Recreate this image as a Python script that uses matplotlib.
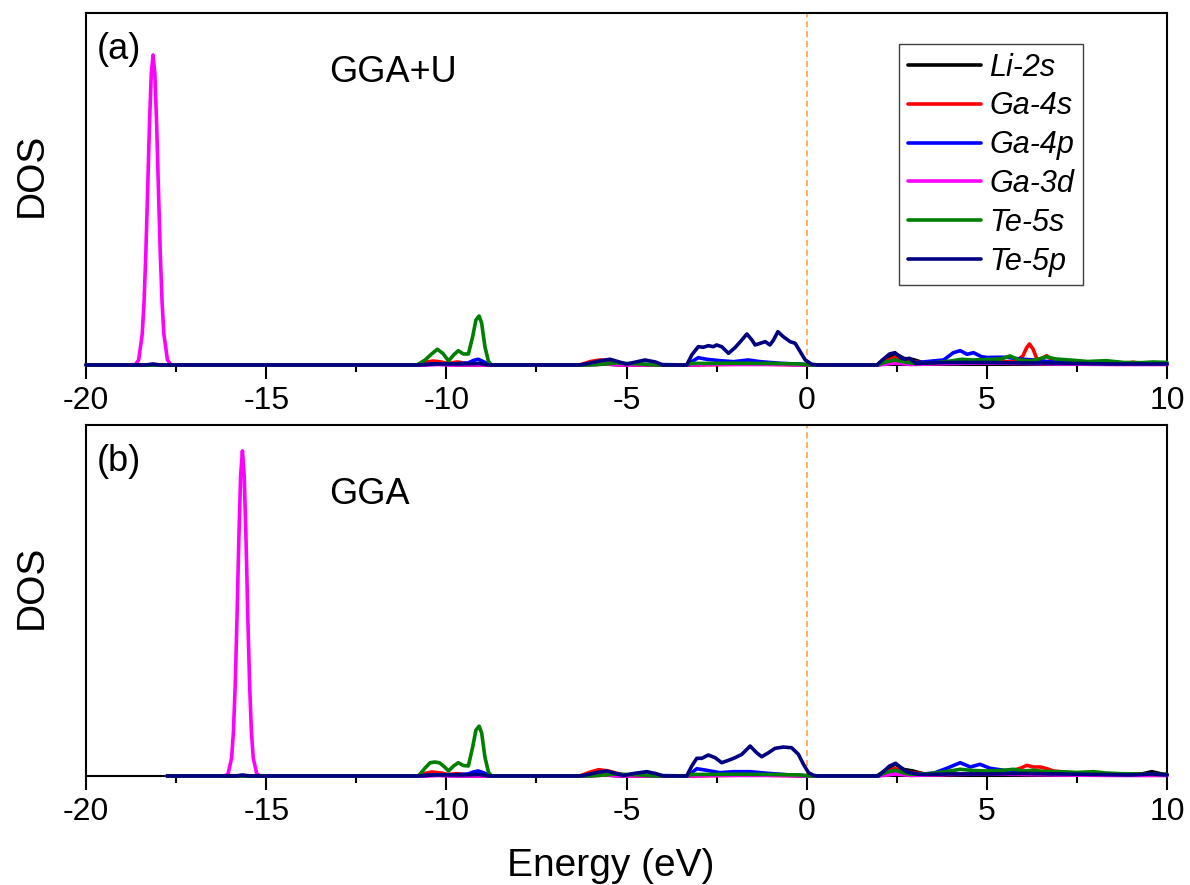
import matplotlib
matplotlib.use('Agg')
import matplotlib.pyplot as plt
from matplotlib.ticker import MultipleLocator

plt.rcParams['font.family'] = ['Liberation Sans', 'DejaVu Sans']
plt.rcParams['axes.unicode_minus'] = False

# projected DOS, arbitrary units
labels = ['Li-2s', 'Ga-4s', 'Ga-4p', 'Ga-3d', 'Te-5s', 'Te-5p']
colors = ['#000000', '#FF0000', '#0000FF', '#FF00FF', '#008000', '#000080']

# (a) GGA+U
top_li2s_e = [-20, -10.7, -10.4, -10.0, -9.6, -6.2, -5.7, -5.2, -3.3, -2.6, -1.6, -0.8, 0.1, 1.95, 2.2, 2.45, 2.7, 2.95, 3.3, 4.5, 6.0, 7.5, 8.8, 9.2, 9.6, 10]
top_li2s_dos = [0, 0, 0.1, 0.05, 0, 0, 0.15, 0, 0, 0.1, 0.15, 0.1, 0, 0, 0.6, 1.15, 0.65, 0.55, 0.15, 0.15, 0.15, 0.1, 0.1, 0.2, 0.1, 0.1]

top_ga4s_e = [-20, -10.8, -10.6, -10.37, -10.15, -9.95, -9.7, -9.5, -9.3, -9.1, -6.3, -6.0, -5.73, -5.5, -5.2, -4.9, -3.3, -1.5, 0.1, 1.95, 2.2, 2.45, 2.7, 3.0, 3.5, 4.5, 5.3, 5.8, 6.0, 6.1, 6.18, 6.28, 6.4, 6.5, 6.66, 6.8, 7.2, 8.0, 8.8, 9.06, 9.3, 10]
top_ga4s_dos = [0, 0, 0.25, 0.4, 0.3, 0.15, 0.3, 0.2, 0.05, 0, 0, 0.35, 0.5, 0.45, 0.2, 0, 0, 0.1, 0, 0, 0.4, 0.75, 0.45, 0.3, 0.15, 0.2, 0.3, 0.35, 0.9, 1.7, 2.1, 1.6, 0.5, 0.6, 0.93, 0.5, 0.3, 0.2, 0.15, 0.27, 0.15, 0.1]

top_ga4p_e = [-20, -10.8, -10.4, -9.8, -9.4, -9.25, -9.12, -8.95, -8.8, -6.2, -5.8, -5.4, -5.0, -3.33, -3.19, -3.01, -2.78, -2.41, -2.03, -1.62, -1.29, -0.74, -0.1, 0.15, 1.95, 2.2, 2.45, 2.8, 3.1, 3.5, 3.8, 4.07, 4.26, 4.45, 4.63, 4.85, 5.0, 5.3, 5.56, 5.9, 6.3, 6.8, 7.5, 8.5, 9.5, 10]
top_ga4p_dos = [0, 0, 0.1, 0.1, 0.2, 0.45, 0.57, 0.3, 0, 0, 0.15, 0.15, 0.1, 0, 0.33, 0.73, 0.57, 0.43, 0.33, 0.5, 0.33, 0.17, 0.07, 0, 0, 0.2, 0.4, 0.2, 0.25, 0.4, 0.5, 1.23, 1.43, 1.07, 1.23, 0.83, 0.75, 0.77, 0.77, 0.6, 0.5, 0.3, 0.2, 0.15, 0.1, 0.1]

top_ga3d_e = [-20, -18.64, -18.54, -18.44, -18.39, -18.34, -18.29, -18.24, -18.19, -18.14, -18.09, -18.04, -17.99, -17.94, -17.89, -17.84, -17.74, -17.64, -10.5, -10.2, -9.9, -6.0, -5.6, -5.2, -3.3, -2.5, -1.0, 0.1, 2.0, 2.45, 2.9, 4.0, 5.0, 6.0, 7.0, 8.5, 10]
top_ga3d_dos = [0, 0, 0.5, 3.1, 6.3, 11.2, 17.5, 24.0, 29.1, 31.0, 29.1, 24.0, 17.5, 11.2, 6.3, 3.1, 0.5, 0, 0, 0.05, 0, 0, 0.1, 0, 0, 0.05, 0.05, 0, 0, 0.2, 0.05, 0.15, 0.2, 0.15, 0.1, 0.05, 0.05]

top_te5s_e = [-20, -10.85, -10.78, -10.59, -10.41, -10.25, -10.10, -9.94, -9.80, -9.67, -9.53, -9.39, -9.27, -9.18, -9.09, -9.02, -8.93, -8.83, -8.74,
              -6.0, -5.6, -5.3, -5.0, -4.6, -4.2, -3.35, -3.2, -2.0, -1.0, -0.2, 0.1,
              1.95, 2.2, 2.45, 2.7, 3.0, 3.5, 4.0, 4.3, 4.6, 5.0, 5.4, 5.64, 5.9, 6.2, 6.45, 6.66, 6.9, 7.3, 7.8, 8.31, 8.8, 9.3, 9.6, 10]
top_te5s_dos = [0, 0, 0.07, 0.5, 1.1, 1.57, 1.17, 0.4, 1.0, 1.43, 1.1, 1.1, 2.83, 4.5, 4.9, 4.17, 1.83, 0.33, 0,
                0, 0.1, 0.2, 0.15, 0.1, 0, 0, 0.15, 0.17, 0.15, 0.1, 0,
                0, 0.3, 0.5, 0.3, 0.15, 0.2, 0.4, 0.57, 0.5, 0.55, 0.6, 0.9, 0.5, 0.4, 0.6, 0.83, 0.6, 0.5, 0.35, 0.43, 0.25, 0.23, 0.3, 0.25]

top_te5p_e = [-20, -18.35, -18.14, -17.95, -10.8, -10.3, -9.6, -9.1, -8.8, -6.3, -6.0, -5.75, -5.46, -5.2, -5.0, -4.8, -4.49, -4.2, -3.99, -3.33,
              -3.19, -3.01, -2.87, -2.73, -2.59, -2.50, -2.36, -2.17, -1.99, -1.80, -1.66, -1.52, -1.43, -1.29, -1.15, -1.02, -0.92, -0.80, -0.65, -0.46,
              -0.32, -0.18, -0.04, 0.14, 0.3, 1.95, 2.1, 2.3, 2.45, 2.6, 2.72, 2.85, 3.03, 3.3, 4.0, 5.0, 6.0, 6.5, 7.5, 8.5, 10]
top_te5p_dos = [0, 0, 0.1, 0, 0, 0.1, 0.1, 0.15, 0, 0, 0.2, 0.4, 0.57, 0.3, 0.1, 0.25, 0.5, 0.3, 0, 0,
                1.0, 1.83, 1.77, 1.93, 1.83, 2.0, 1.83, 1.17, 1.73, 2.5, 3.1, 2.5, 2.0, 2.17, 2.33, 2.0, 2.5, 3.33, 2.83, 2.33,
                2.17, 1.33, 0.5, 0.07, 0, 0, 0.5, 1.1, 1.23, 0.75, 0.57, 0.67, 0.15, 0.2, 0.25, 0.25, 0.2, 0.2, 0.15, 0.1, 0.1]

# (b) GGA
bot_li2s_e = [-17.75, -10.7, -10.4, -10.0, -9.6, -6.2, -5.7, -5.2, -3.3, -2.6, -1.6, -0.8, 0.1, 1.95, 2.2, 2.45, 2.7, 2.95, 3.3, 4.5, 6.0, 7.5, 8.8, 9.3, 9.58, 9.85, 10]
bot_li2s_dos = [0, 0, 0.1, 0.05, 0, 0, 0.15, 0, 0, 0.1, 0.15, 0.1, 0, 0, 0.6, 1.2, 0.65, 0.5, 0.15, 0.15, 0.15, 0.1, 0.1, 0.2, 0.43, 0.2, 0.15]

bot_ga4s_e = [-17.75, -10.8, -10.6, -10.4, -10.15, -9.95, -9.7, -9.5, -9.3, -9.1, -6.3, -6.0, -5.77, -5.5, -5.2, -4.9, -3.3, -1.5, 0.1, 1.95, 2.2, 2.45, 2.7, 3.0, 3.5, 4.5, 5.3, 5.74, 5.95, 6.11, 6.29, 6.48, 6.65, 6.85, 7.2, 8.0, 8.8, 9.3, 10]
bot_ga4s_dos = [0, 0, 0.25, 0.4, 0.3, 0.15, 0.23, 0.15, 0.05, 0, 0, 0.4, 0.63, 0.5, 0.2, 0, 0, 0.1, 0, 0, 0.4, 0.75, 0.45, 0.3, 0.15, 0.2, 0.35, 0.57, 0.8, 1.07, 0.9, 0.9, 0.75, 0.5, 0.35, 0.25, 0.15, 0.15, 0.1]

bot_ga4p_e = [-17.75, -10.8, -10.4, -9.8, -9.4, -9.25, -9.12, -8.95, -8.8, -6.2, -5.8, -5.4, -5.0, -3.33, -3.19, -3.05, -2.78, -2.41, -2.03, -1.57, -1.1, -0.46, 0.15, 1.95, 2.2, 2.45, 2.8, 3.2, 3.52, 3.89, 4.26, 4.54, 4.81, 5.09, 5.46, 5.92, 6.5, 7.22, 8.0, 9.0, 10]
bot_ga4p_dos = [0, 0, 0.1, 0.1, 0.2, 0.4, 0.5, 0.3, 0, 0, 0.15, 0.15, 0.1, 0, 0.33, 0.73, 0.57, 0.33, 0.43, 0.43, 0.27, 0.1, 0, 0, 0.2, 0.4, 0.2, 0.2, 0.27, 0.77, 1.33, 0.9, 1.17, 0.77, 0.57, 0.33, 0.25, 0.17, 0.15, 0.1, 0.1]

bot_ga3d_e = [-17.75, -16.16, -16.06, -15.96, -15.91, -15.86, -15.81, -15.76, -15.71, -15.66, -15.61, -15.56, -15.51, -15.46, -15.41, -15.36, -15.26, -15.16, -10.5, -10.2, -9.9, -6.0, -5.6, -5.2, -3.3, -2.5, -1.0, 0.1, 2.0, 2.45, 2.9, 4.0, 5.0, 6.0, 7.0, 8.5, 10]
bot_ga3d_dos = [0, 0, 0.2, 1.8, 4.4, 9.1, 15.9, 23.7, 30.1, 32.6, 30.1, 23.7, 15.9, 9.1, 4.4, 1.8, 0.2, 0, 0, 0.05, 0, 0, 0.1, 0, 0, 0.05, 0.05, 0, 0, 0.2, 0.05, 0.15, 0.2, 0.15, 0.1, 0.05, 0.05]

bot_te5s_e = [-17.75, -10.82, -10.75, -10.59, -10.45, -10.31, -10.18, -10.05, -9.94, -9.80, -9.67, -9.53, -9.39, -9.27, -9.18, -9.09, -9.02, -8.93, -8.83, -8.74,
              -6.0, -5.6, -5.3, -5.0, -4.6, -4.2, -3.35, -3.2, -2.0, -1.0, -0.2, 0.1,
              1.95, 2.2, 2.45, 2.7, 2.87, 3.3, 3.9, 4.26, 4.6, 5.0, 5.4, 5.74, 6.0, 6.29, 6.6, 7.03, 7.5, 7.96, 8.3, 8.7, 9.2, 9.81, 10]
bot_te5s_dos = [0, 0, 0.1, 0.8, 1.33, 1.4, 1.3, 0.9, 0.5, 1.0, 1.33, 1.05, 1.0, 2.9, 4.6, 5.0, 4.3, 1.9, 0.35, 0,
                0, 0.1, 0.2, 0.15, 0.1, 0, 0, 0.15, 0.17, 0.15, 0.1, 0,
                0, 0.35, 0.57, 0.3, 0.17, 0.2, 0.45, 0.67, 0.55, 0.5, 0.55, 0.67, 0.5, 0.57, 0.45, 0.43, 0.35, 0.43, 0.3, 0.23, 0.2, 0.15, 0.15]

bot_te5p_e = [-17.75, -15.85, -15.66, -15.45, -10.8, -10.3, -9.6, -9.1, -8.8, -6.29, -6.0, -5.75, -5.55, -5.3, -5.09, -4.8, -4.44, -4.2, -3.98, -3.33,
              -3.19, -3.05, -2.91, -2.73, -2.54, -2.36, -2.17, -1.99, -1.80, -1.57, -1.39, -1.25, -1.06, -0.88, -0.65, -0.42, -0.23, -0.09, 0.05, 0.19,
              0.3, 1.99, 2.15, 2.3, 2.47, 2.62, 2.75, 2.87, 3.15, 4.0, 5.0, 6.0, 7.0, 8.0, 9.0, 9.58, 10]
bot_te5p_dos = [0, 0, 0.1, 0, 0, 0.1, 0.1, 0.15, 0, 0, 0.2, 0.4, 0.5, 0.25, 0.05, 0.25, 0.43, 0.25, 0, 0,
                1.0, 1.77, 1.77, 2.1, 1.83, 1.33, 1.57, 1.83, 2.17, 3.0, 2.33, 1.93, 2.33, 2.77, 2.9, 2.83, 2.17, 1.17, 0.33, 0.07,
                0, 0, 0.5, 1.0, 1.27, 0.8, 0.45, 0.33, 0.15, 0.2, 0.2, 0.25, 0.2, 0.15, 0.1, 0.2, 0.1]

top_curves = [(top_li2s_e, top_li2s_dos), (top_ga4s_e, top_ga4s_dos), (top_ga4p_e, top_ga4p_dos),
              (top_ga3d_e, top_ga3d_dos), (top_te5s_e, top_te5s_dos), (top_te5p_e, top_te5p_dos)]
bot_curves = [(bot_li2s_e, bot_li2s_dos), (bot_ga4s_e, bot_ga4s_dos), (bot_ga4p_e, bot_ga4p_dos),
              (bot_ga3d_e, bot_ga3d_dos), (bot_te5s_e, bot_te5s_dos), (bot_te5p_e, bot_te5p_dos)]

fig = plt.figure(figsize=(11.9, 8.85), dpi=100)
ax1 = fig.add_axes([0.0723, 0.5876, 0.9084, 0.3977])
ax2 = fig.add_axes([0.0723, 0.1232, 0.9084, 0.3966])


def style_panel(ax, curves, tag, method, method_y):
    ax.axvline(0, color='#FF9933', ls='--', lw=1.1, dashes=(4, 2.5), zorder=1)
    for (e, d), lab, c in zip(curves, labels, colors):
        ax.plot(e, d, color=c, lw=2.6, label=lab, clip_on=False, zorder=3,
                solid_joinstyle='round', solid_capstyle='round')
    ax.set_xlim(-20, 10)
    ax.set_ylim(0, 35.2)
    ax.xaxis.set_major_locator(MultipleLocator(5))
    ax.xaxis.set_minor_locator(MultipleLocator(2.5))
    ax.tick_params(axis='x', which='major', direction='out', length=10, width=1.5,
                   labelsize=23, pad=5, top=False)
    ax.tick_params(axis='x', which='minor', direction='out', length=5, width=1.5, top=False)
    ax.tick_params(axis='y', left=False, right=False, labelleft=False)
    for s in ax.spines.values():
        s.set_linewidth(1.5)
    ax.set_ylabel('DOS', fontsize=28)
    ax.yaxis.set_label_coords(-0.034, 0.54)
    ax.text(0.010, 0.895, tag, transform=ax.transAxes, fontsize=26, ha='left', va='center')
    ax.text(0.225, method_y, method, transform=ax.transAxes, fontsize=26, ha='left', va='center')


style_panel(ax1, top_curves, '(a)', 'GGA+U', 0.83)
style_panel(ax2, bot_curves, '(b)', 'GGA', 0.803)

leg = ax1.legend(loc='upper right', bbox_to_anchor=(0.922, 0.912), borderaxespad=0,
                 prop={'size': 22, 'style': 'italic'}, handlelength=2.4, handletextpad=0.27,
                 labelspacing=0.29, borderpad=0.28, fancybox=False, framealpha=1)
leg.get_frame().set_edgecolor('#404040')
leg.get_frame().set_linewidth(1.0)
for line in leg.get_lines():
    line.set_linewidth(2.6)

fig.text(611 / 1190, 1 - 876 / 885, 'Energy (eV)', fontsize=28, ha='center', va='baseline')

fig.savefig('out.png', dpi=100)
